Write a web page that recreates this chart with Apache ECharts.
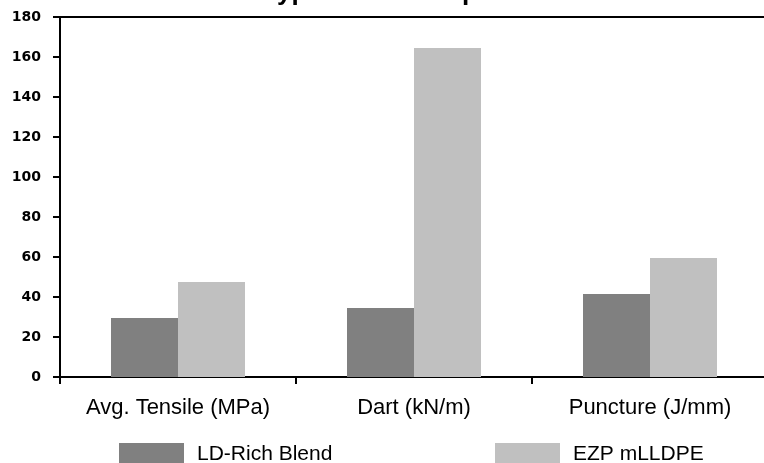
<!DOCTYPE html>
<html><head><meta charset="utf-8">
<script src="https://cdn.jsdelivr.net/npm/echarts@6/dist/echarts.min.js"></script>
<style>html,body{margin:0;padding:0;background:#fff;overflow:hidden;width:764px;height:463px}#c{width:768px;height:463px}</style>
</head><body><div id="c"></div>
<script>
const categories = ['Avg. Tensile (MPa)', 'Dart (kN/m)', 'Puncture (J/mm)'];
const ldRich = [29.5, 34.5, 41.5];
const ezp = [47.5, 164.5, 59.5];
const seriesNames = ['LD-Rich Blend', 'EZP mLLDPE'];
const yTicks = [0, 20, 40, 60, 80, 100, 120, 140, 160, 180];

const chart = echarts.init(document.getElementById('c'), null, {renderer: 'canvas'});
chart.setOption({
  animation: false,
  backgroundColor: '#fff',
  title: {
    text: 'Typical Film Properties',
    left: 263, top: -20, padding: 0,
    textStyle: {fontFamily: 'Liberation Sans', fontWeight: 'bold', fontSize: 26, color: '#000'}
  },
  legend: [
    {data: [seriesNames[0]], left: 119, top: 443, itemWidth: 65, itemHeight: 22, icon: 'rect', padding: 0,
     textStyle: {fontFamily: 'Liberation Sans', fontSize: 21, color: '#000', padding: [0, 0, 0, 8]}},
    {data: [seriesNames[1]], left: 495, top: 443, itemWidth: 65, itemHeight: 22, icon: 'rect', padding: 0,
     textStyle: {fontFamily: 'Liberation Sans', fontSize: 21, color: '#000', padding: [0, 0, 0, 8]}}
  ],
  grid: {left: 60, top: 17, right: 0, height: 360, show: false, containLabel: false},
  xAxis: [{
    type: 'category', data: categories,
    axisLine: {lineStyle: {color: '#000', width: 2}},
    axisTick: {show: true, interval: 0, length: 7, lineStyle: {color: '#000', width: 2}},
    axisLabel: {interval: 0, hideOverlap: false, fontFamily: 'Liberation Sans', fontSize: 22, color: '#000', margin: 20}
  }, {
    type: 'category', data: categories, position: 'top',
    axisLine: {show: true, lineStyle: {color: '#000', width: 2}},
    axisTick: {show: false}, axisLabel: {show: false}
  }],
  yAxis: {
    type: 'value', min: yTicks[0], max: yTicks[yTicks.length - 1], interval: 20,
    axisLine: {show: true, lineStyle: {color: '#000', width: 2}},
    axisTick: {show: true, length: 7, lineStyle: {color: '#000', width: 2}},
    splitLine: {show: false},
    axisLabel: {fontFamily: 'DejaVu Sans', fontWeight: 'bold', fontSize: 14, color: '#000', margin: 19}
  },
  series: [
    {name: seriesNames[0], type: 'bar', data: ldRich, barWidth: 67, barGap: '0%', itemStyle: {color: '#808080'}},
    {name: seriesNames[1], type: 'bar', data: ezp, barWidth: 67, barGap: '0%', itemStyle: {color: '#c0c0c0'}}
  ]
});
</script></body></html>
